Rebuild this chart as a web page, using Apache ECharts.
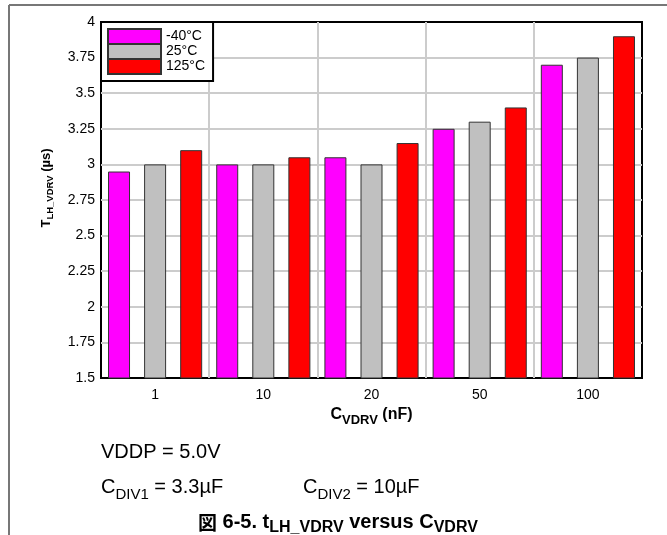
<!DOCTYPE html>
<html>
<head>
<meta charset="utf-8">
<script src="https://cdn.jsdelivr.net/npm/echarts@6/dist/echarts.min.js"></script>
<style>
html,body{margin:0;padding:0;background:#fff;}
#chart{width:667px;height:535px;}
</style>
</head>
<body>
<div id="chart"></div>
<script>
const categories = ['1', '10', '20', '50', '100'];
const seriesNames = ['-40°C', '25°C', '125°C'];
const tMinus40 = [2.95, 3.0, 3.05, 3.25, 3.7];
const t25 = [3.0, 3.0, 3.0, 3.3, 3.75];
const t125 = [3.1, 3.05, 3.15, 3.4, 3.9];
const seriesColors = ['#FF00FF', '#C0C0C0', '#FF0000'];

const FONT = '"Liberation Sans", Arial, sans-serif';
const chart = echarts.init(document.getElementById('chart'));
const values = [tMinus40, t25, t125];

chart.setOption({
  animation: false,
  backgroundColor: '#fff',
  textStyle: { fontFamily: FONT, color: '#000' },
  grid: {
    left: 101, right: 25, top: 22, bottom: 157,
    show: true, borderColor: '#000', borderWidth: 2, backgroundColor: 'transparent'
  },
  legend: {
    data: seriesNames,
    orient: 'vertical',
    left: 101, top: 22,
    padding: [6, 8, 6, 6],
    itemGap: -2,
    itemWidth: 53, itemHeight: 15,
    icon: 'rect',
    backgroundColor: '#fff',
    borderColor: '#000', borderWidth: 2, borderRadius: 0,
    textStyle: { fontFamily: FONT, fontSize: 14, color: '#000' }
  },
  xAxis: {
    type: 'category',
    data: categories,
    axisLine: { show: false },
    axisTick: { show: false },
    axisLabel: { fontFamily: FONT, fontSize: 14, color: '#000', margin: 10 },
    splitLine: { show: true, showMinLine: false, showMaxLine: false, lineStyle: { color: '#cccccc', width: 2 } },
    name: '{b|C}{s|VDRV}{b| (nF)}',
    nameLocation: 'middle',
    nameGap: 19,
    nameTextStyle: {
      rich: {
        b: { fontFamily: FONT, fontSize: 16, fontWeight: 'bold', color: '#000', verticalAlign: 'bottom', lineHeight: 18 },
        s: { fontFamily: FONT, fontSize: 13, fontWeight: 'bold', color: '#000', verticalAlign: 'bottom', lineHeight: 14, padding: [0, 0, -4, 0] }
      }
    }
  },
  yAxis: {
    type: 'value',
    min: 1.5, max: 4, interval: 0.25,
    axisLine: { show: false },
    axisTick: { show: false },
    axisLabel: { fontFamily: FONT, fontSize: 14, color: '#000', margin: 6 },
    splitLine: { show: true, showMinLine: false, showMaxLine: false, lineStyle: { color: '#cccccc', width: 2 } }
  },
  series: seriesNames.map((n, i) => ({
    name: n,
    type: 'bar',
    data: values[i],
    barWidth: 22,
    barGap: '64%',
    itemStyle: { color: seriesColors[i], borderColor: '#333', borderWidth: 1 }
  })),
  graphic: [
    { type: 'line', shape: { x1: 9, y1: 5, x2: 9, y2: 535 }, style: { stroke: '#777', lineWidth: 2 } },
    { type: 'line', shape: { x1: 9, y1: 5, x2: 667, y2: 5 }, style: { stroke: '#777', lineWidth: 2 } },
    {
      type: 'text', x: 45, y: 188, rotation: Math.PI / 2,
      style: {
        text: '{b|T}{s|LH_VDRV}{b| (µs)}',
        align: 'center', verticalAlign: 'middle',
        rich: {
          b: { fontFamily: FONT, fontSize: 13, fontWeight: 'bold', verticalAlign: 'bottom', lineHeight: 15 },
          s: { fontFamily: FONT, fontSize: 9.5, fontWeight: 'bold', verticalAlign: 'bottom', lineHeight: 11, padding: [0, 0, -3, 0] }
        },
        fill: '#000'
      }
    },
    {
      type: 'text', left: 101, top: 442,
      style: { text: 'VDDP = 5.0V', font: '20px ' + FONT, fill: '#000' }
    },
    {
      type: 'text', left: 101, top: 477,
      style: {
        text: '{n|C}{s|DIV1}{n| = 3.3µF}',
        rich: {
          n: { fontFamily: FONT, fontSize: 20, verticalAlign: 'bottom', lineHeight: 22 },
          s: { fontFamily: FONT, fontSize: 15, verticalAlign: 'bottom', lineHeight: 16, padding: [0, 0, -5, 0] }
        },
        fill: '#000'
      }
    },
    {
      type: 'text', left: 303, top: 477,
      style: {
        text: '{n|C}{s|DIV2}{n| = 10µF}',
        rich: {
          n: { fontFamily: FONT, fontSize: 20, verticalAlign: 'bottom', lineHeight: 22 },
          s: { fontFamily: FONT, fontSize: 15, verticalAlign: 'bottom', lineHeight: 16, padding: [0, 0, -5, 0] }
        },
        fill: '#000'
      }
    },
    {
      type: 'text', left: 198, top: 512,
      style: {
        text: '{j|図}{b| 6-5. t}{s|LH_VDRV}{b| versus C}{s|VDRV}',
        rich: {
          j: { fontFamily: '"Noto Sans CJK JP"', fontSize: 19, fontWeight: 'bold', verticalAlign: 'bottom', lineHeight: 20 },
          b: { fontFamily: FONT, fontSize: 20, fontWeight: 'bold', verticalAlign: 'bottom', lineHeight: 20 },
          s: { fontFamily: FONT, fontSize: 16, fontWeight: 'bold', verticalAlign: 'bottom', lineHeight: 15, padding: [0, 0, -4, 0] }
        },
        fill: '#000'
      }
    }
  ]
});
</script>
</body>
</html>
